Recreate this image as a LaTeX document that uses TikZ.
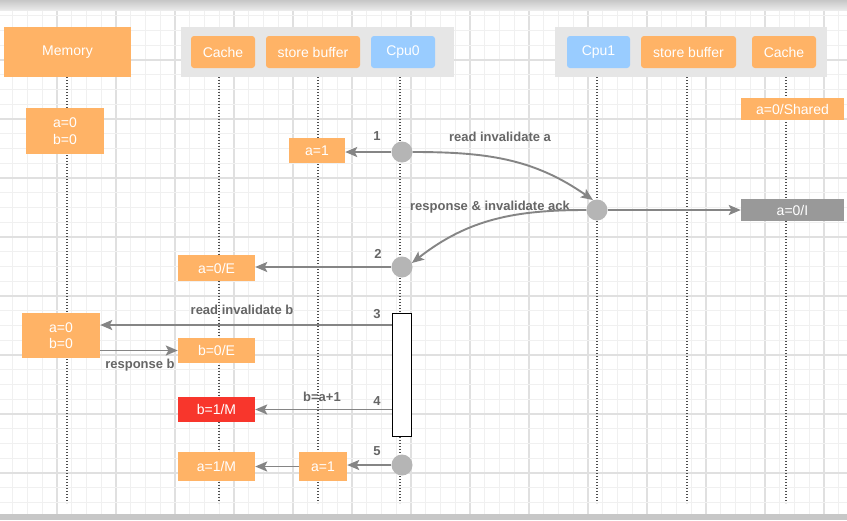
\documentclass[tikz,border=0pt]{standalone}
\usepackage{fontspec}
\setmainfont{Liberation Sans}
\usetikzlibrary{arrows.meta,calc}
\definecolor{orng}{HTML}{FFB366}
\definecolor{cpublue}{HTML}{99CCFF}
\definecolor{redbox}{HTML}{F8362C}
\definecolor{greybox}{HTML}{999999}
\definecolor{panelg}{HTML}{E6E6E6}
\definecolor{arrg}{HTML}{858585}
\definecolor{circg}{HTML}{B5B5B5}
\definecolor{labg}{HTML}{666666}
\definecolor{lifeg}{HTML}{4D4D4D}
\definecolor{minorg}{HTML}{F0F0F0}
\definecolor{majorg}{HTML}{E0E0E0}
\begin{document}
\begin{tikzpicture}[x=1pt,y=-1pt,
  box/.style={rectangle,fill=orng,text=white,inner sep=0pt,align=center,
    font=\fontsize{14}{16.5}\selectfont},
  head/.style={box,rounded corners=3pt,minimum height=32pt},
  cpu/.style={head,fill=cpublue},
  panel/.style={fill=panelg,draw=none},
  lifeline/.style={draw=lifeg,line width=1.4pt,dash pattern=on 1.4pt off 1.6pt},
  msg/.style={draw=arrg,line width=1.9pt,-{Stealth[length=12pt,width=10pt,inset=2.5pt]}},
  dot/.style={circle,fill=circg,minimum size=21pt,inner sep=0pt},
  lbl/.style={text=labg,font=\fontsize{13}{15}\selectfont\bfseries,inner sep=0pt},
  act/.style={rectangle,draw=black,line width=1.5pt,fill=white,minimum width=19pt,minimum height=123pt,inner sep=0pt}
]
\useasboundingbox (0,0) rectangle (847,520);
\fill[white] (0,0) rectangle (847,520);
% grid
\foreach \i in {0,...,58}{
  \pgfmathtruncatemacro{\m}{mod(\i,4)}
  \ifnum\m=0 \draw[majorg,line width=1.2pt] ({-2+14.75*\i},10) -- ({-2+14.75*\i},514);
  \else \draw[minorg,line width=0.8pt] ({-2+14.75*\i},10) -- ({-2+14.75*\i},514); \fi
}
\foreach \j in {1,...,34}{
  \pgfmathtruncatemacro{\m}{mod(\j,4)}
  \ifnum\m=0 \draw[majorg,line width=1.2pt] (0,{1+14.75*\j}) -- (847,{1+14.75*\j});
  \else \draw[minorg,line width=0.8pt] (0,{1+14.75*\j}) -- (847,{1+14.75*\j}); \fi
}
\shade[top color=black!22,bottom color=black!8] (0,0) rectangle (847,10);
\fill[black!22] (0,514) rectangle (847,520);

% panels
\fill[panel] (181,27) rectangle (454,77);
\fill[panel] (555,27) rectangle (827,77);

% lifelines
\foreach \n/\x in {mem/67,cacheL/219,sbL/318,cpuA/400,cpuB/597,sbR/687,cacheR/786}{
  \coordinate (\n t) at (\x,77);
  \coordinate (\n b) at (\x,503);
  \draw[lifeline] (\n t) -- (\n b);
}

% headers
\node[box,minimum width=127pt,minimum height=50pt] (memory) at (67.5,52) {Memory};
\node[head,minimum width=64pt] (cacheA) at (223,52) {Cache};
\node[head,minimum width=94pt] (sbA) at (313,52) {store buffer};
\node[cpu,minimum width=64pt] (cpu0) at (403,52) {Cpu0};
\node[cpu,minimum width=63pt] (cpu1) at (598.5,52) {Cpu1};
\node[head,minimum width=95pt] (sbB) at (688.5,52) {store buffer};
\node[head,minimum width=64pt] (cacheB) at (784,52) {Cache};

% state boxes
\node[box,minimum width=78pt,minimum height=46pt] (mem1) at (65,131) {a=0\\b=0};
\node[box,minimum width=56pt,minimum height=25pt] (a1top) at (317,150.5) {a=1};
\node[box,minimum width=103pt,minimum height=22pt] (ashared) at (792.5,109) {a=0/Shared};
\node[box,fill=greybox,minimum width=103pt,minimum height=22pt] (aI) at (792.5,210) {a=0/I};
\node[box,minimum width=77pt,minimum height=26pt] (a0E) at (216.5,268) {a=0/E};
\node[box,minimum width=78pt,minimum height=45pt] (mem2) at (61,335.5) {a=0\\b=0};
\node[box,minimum width=77pt,minimum height=25pt] (b0E) at (216.5,350.5) {b=0/E};
\node[box,fill=redbox,minimum width=77pt,minimum height=25pt] (b1M) at (216.5,409.5) {b=1/M};
\node[box,minimum width=48pt,minimum height=29pt] (a1bot) at (323,466.5) {a=1};
\node[box,minimum width=77pt,minimum height=29pt] (a1M) at (216.5,466.5) {a=1/M};

% events on cpu lifelines
\node[dot] (c1) at (402,152) {};
\node[dot] (c2) at (597,210) {};
\node[dot] (c3) at (402,267) {};
\node[act] (bar) at (402,375) {};
\node[dot] (c5) at (402,465) {};

% labels
\node[lbl] (n1) at (377,136) {1};
\node[lbl] (n2) at (378,254) {2};
\node[lbl] (n3) at (377,314) {3};
\node[lbl] (n4) at (377,401) {4};
\node[lbl] (n5) at (377,451) {5};
\node[lbl] (l1) at (500,137) {read invalidate a};
\node[lbl] (l2) at (490,207) {response \& invalidate ack};
\node[lbl] (l3) at (242,310) {read invalidate b};
\node[lbl] (l4) at (140,365) {response b};
\node[lbl] (l5) at (322,397) {b=a+1};

% messages
\draw[msg] (c1.west) -- (c1.west -| a1top.east);
\draw[msg] (c1.east) to[out=0,in=145] (c2.112);
\draw[msg] (c2.east) -- (aI.west);
\draw[msg] (c2.west) to[out=180,in=38] (c3.22);
\draw[msg] (c3.west) -- (c3.west -| a0E.east);
\coordinate (r3) at (bar.west |- 0,325);
\draw[msg] (r3) -- (r3 -| mem2.east);
\draw[msg] (mem2.east |- b0E) -- (b0E.west);
\draw[msg] (bar.west |- b1M) -- (b1M.east);
\draw[msg] (c5.west) -- (c5.west -| a1bot.east);
\draw[msg] (a1bot.west) -- (a1M.east);
\end{tikzpicture}
\end{document}
